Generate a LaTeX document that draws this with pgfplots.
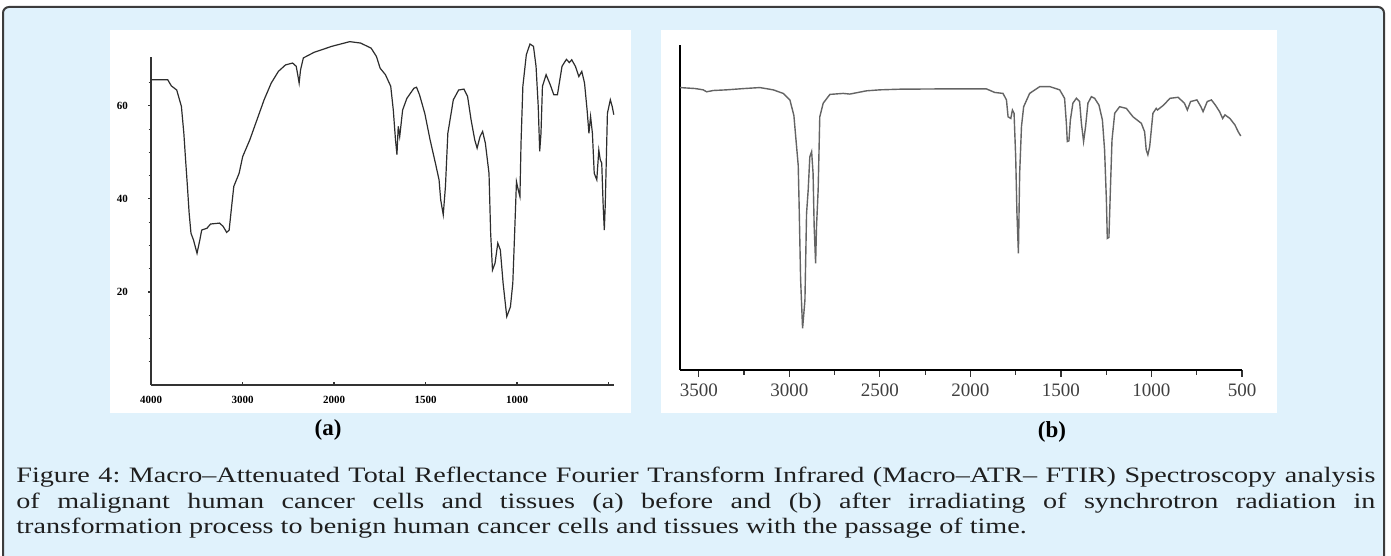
\documentclass[border=0pt]{standalone}
\usepackage{pgfplots}
\pgfplotsset{compat=1.18}
\usepackage{fontspec}
\setmainfont{Liberation Serif}
\newfontfamily\capfont{Liberation Serif}[FakeStretch=1.28]
\definecolor{bgblue}{RGB}{224,242,252}
\definecolor{framec}{RGB}{60,60,60}
\definecolor{curvea}{RGB}{45,45,45}
\definecolor{curveb}{RGB}{100,100,100}
\begin{document}
\begin{tikzpicture}
\useasboundingbox (0,0) rectangle (695.5pt,278pt);
% outer frame
\draw[framec, line width=1pt, fill=bgblue, rounded corners=3pt] (1.5pt,274.5pt) rectangle (692pt,-4pt);
% white panels
\fill[white] (55pt,71.5pt) rectangle (315.5pt,263pt);
\fill[white] (330.5pt,71.5pt) rectangle (638.5pt,263pt);

% ---------- panel (a) ----------
\begin{axis}[
  at={(75.5pt,85.5pt)}, anchor=south west, scale only axis,
  width=231.5pt, height=164pt,
  xmin=0, xmax=5.06, ymin=0, ymax=70.5, clip=false,
  axis lines=left, axis line style={-, line width=0.6pt, black!80},
  x filter/.expression={x>2000 ? (4000-x)/1000 : 2+(2000-x)/500},
  xtick={0,1,2,3,4,5}, xticklabels={4000,3000,2000,1500,1000,{}},
  ytick={20,40,60}, yticklabels={20,40,60},
  minor ytick={5,10,15,25,30,35,45,50,55,65},
  tick align=inside, major tick length=1.5pt, minor tick length=1.2pt,
  tick style={line width=0.6pt, black!80},
  every major y tick/.append style={xshift=-1.5pt},
  every minor y tick/.append style={xshift=-1.2pt},
  ticklabel style={font=\fontsize{5.5}{6}\selectfont\bfseries},
  yticklabel style={xshift=-8pt},
  xticklabel style={yshift=-2pt},
]
\addplot[curvea, line width=0.6pt] coordinates {
(4000,65.6)(3817,65.6)(3778,64.3)(3719,63.4)(3668,59.9)(3641,54.1)(3622,48.4)(3602,42.7)(3583,36.9)(3563,32.6)(3536,31.2)(3497,28.3)(3466,31.2)(3446,33.3)(3388,33.7)(3349,34.6)(3251,34.8)(3212,34.1)(3173,32.8)(3146,33.3)(3115,39.1)(3095,42.7)(3037,45.5)(2998,49.1)(2920,52.7)(2842,57.0)(2764,61.3)(2686,64.9)(2608,67.4)(2530,68.8)(2452,69.2)(2413,68.5)(2393,66.3)(2381,64.9)(2366,67.7)(2335,70.3)(2218,71.5)(2023,72.8)(1914,73.8)(1855,73.5)(1797,72.4)(1768,70.6)(1748,68.1)(1719,66.7)(1690,64.2)(1676,59.1)(1664,52.7)(1656,49.5)(1649,55.6)(1641,53.4)(1625,59.1)(1602,61.6)(1563,63.8)(1549,64.0)(1533,62.4)(1504,58.4)(1475,52.7)(1446,47.7)(1426,44.1)(1417,39.8)(1403,36.6)(1391,42.7)(1378,54.1)(1348,61.3)(1319,63.4)(1290,63.6)(1270,62.0)(1251,57.0)(1231,52.7)(1218,50.9)(1202,53.4)(1188,54.5)(1173,52.0)(1153,45.5)(1144,32.6)(1134,24.7)(1120,26.2)(1105,30.5)(1091,29.0)(1076,21.9)(1056,14.7)(1036,16.8)(1023,21.9)(1013,32.6)(1003,43.7)(993,41.9)(984,40.5)(978,52.0)(968,64.2)(949,71.0)(929,73.3)(910,72.8)(896,68.5)(884,59.9)(876,50.2)(869,54.1)(861,64.2)(841,66.7)(818,64.5)(799,62.4)(779,62.4)(754,68.5)(730,70.0)(714,69.3)(701,69.9)(681,68.5)(662,66.3)(646,67.4)(631,64.9)(617,59.1)(607,54.1)(598,57.7)(588,54.1)(578,45.5)(564,44.1)(553,50.5)(545,48.4)(537,47.7)(529,38.4)(523,33.3)(518,38.4)(506,58.4)(490,61.3)(480,59.9)(471,58.1)
};
\end{axis}

% ---------- panel (b) ----------
\begin{axis}[
  at={(340pt,93pt)}, anchor=south west, scale only axis,
  width=281pt, height=162.5pt,
  xmin=500, xmax=3604, ymin=0, ymax=100, x dir=reverse,
  axis lines=left, axis line style={-, line width=1pt, black},
  xtick={500,1000,1500,2000,2500,3000,3500},
  xticklabels={500,1000,1500,2000,2500,3000,3500},
  minor x tick num=1, ytick=\empty,
  tick align=outside, major tick length=3.5pt, minor tick length=2.5pt,
  tick style={line width=0.6pt, black!80},
  ticklabel style={font=\fontsize{9.5}{10}\selectfont, text=black!75},
]
\addplot[curveb, line width=0.7pt] coordinates {
(3604,86.9)(3520,86.6)(3476,86.2)(3457,85.6)(3420,86.0)(3347,86.2)(3250,86.6)(3163,86.9)(3089,86.2)(3034,85.1)(2997,83.1)(2975,78.3)(2964,71.2)(2951,62.9)(2946,50.6)(2938,28.1)(2927,12.8)(2914,21.5)(2905,48.2)(2896,55.4)(2887,65.6)(2877,67.2)(2869,60.5)(2863,44.1)(2855,32.8)(2850,44.1)(2841,55.4)(2832,77.9)(2813,82.1)(2776,84.8)(2703,85.1)(2666,84.9)(2574,85.9)(2500,86.2)(2390,86.4)(2132,86.5)(1912,86.5)(1866,85.4)(1820,85.1)(1801,83.1)(1792,77.9)(1777,77.4)(1768,80.0)(1759,79.0)(1750,65.6)(1743,48.2)(1735,35.9)(1728,60.5)(1718,74.9)(1706,81.0)(1673,85.1)(1617,87.2)(1562,87.2)(1507,86.2)(1480,83.6)(1470,75.9)(1465,70.3)(1456,70.5)(1448,76.9)(1434,82.1)(1415,83.6)(1397,82.6)(1387,75.9)(1375,70.3)(1364,74.9)(1351,82.1)(1332,84.1)(1314,83.6)(1290,81.5)(1271,76.9)(1259,67.7)(1249,52.3)(1244,40.5)(1235,40.8)(1227,55.4)(1218,70.8)(1203,79.0)(1176,81.0)(1139,80.5)(1102,77.9)(1056,75.9)(1038,73.3)(1029,67.7)(1020,66.2)(1010,68.7)(992,79.0)(974,80.5)(967,80.0)(933,81.5)(898,83.6)(853,83.9)(818,82.1)(802,80.0)(784,82.6)(749,83.1)(727,81.0)(715,79.5)(692,82.6)(669,83.1)(647,81.5)(624,79.5)(607,77.4)(594,78.5)(567,77.4)(539,75.4)(521,73.3)(507,72.0)
};
\end{axis}

% panel labels
\node[font=\fontsize{11.5}{13}\selectfont\bfseries] at (164pt,63pt) {(a)};
\node[font=\fontsize{11.5}{13}\selectfont\bfseries] at (526pt,62pt) {(b)};

% caption
\node[anchor=north west, inner sep=0pt, text width=679.5pt, align=justify,
      font=\capfont\fontsize{11}{12.75}\selectfont, text=black!88]
  at (8pt,44.5pt)
  {\frenchspacing Figure 4: Macro–Attenuated Total Reflectance Fourier Transform Infrared (Macro–ATR– FTIR) Spectroscopy analysis\linebreak
   of malignant human cancer cells and tissues (a) before and (b) after irradiating of synchrotron radiation in\linebreak
   transformation process to benign human cancer cells and tissues with the passage of time.};
\end{tikzpicture}
\end{document}
